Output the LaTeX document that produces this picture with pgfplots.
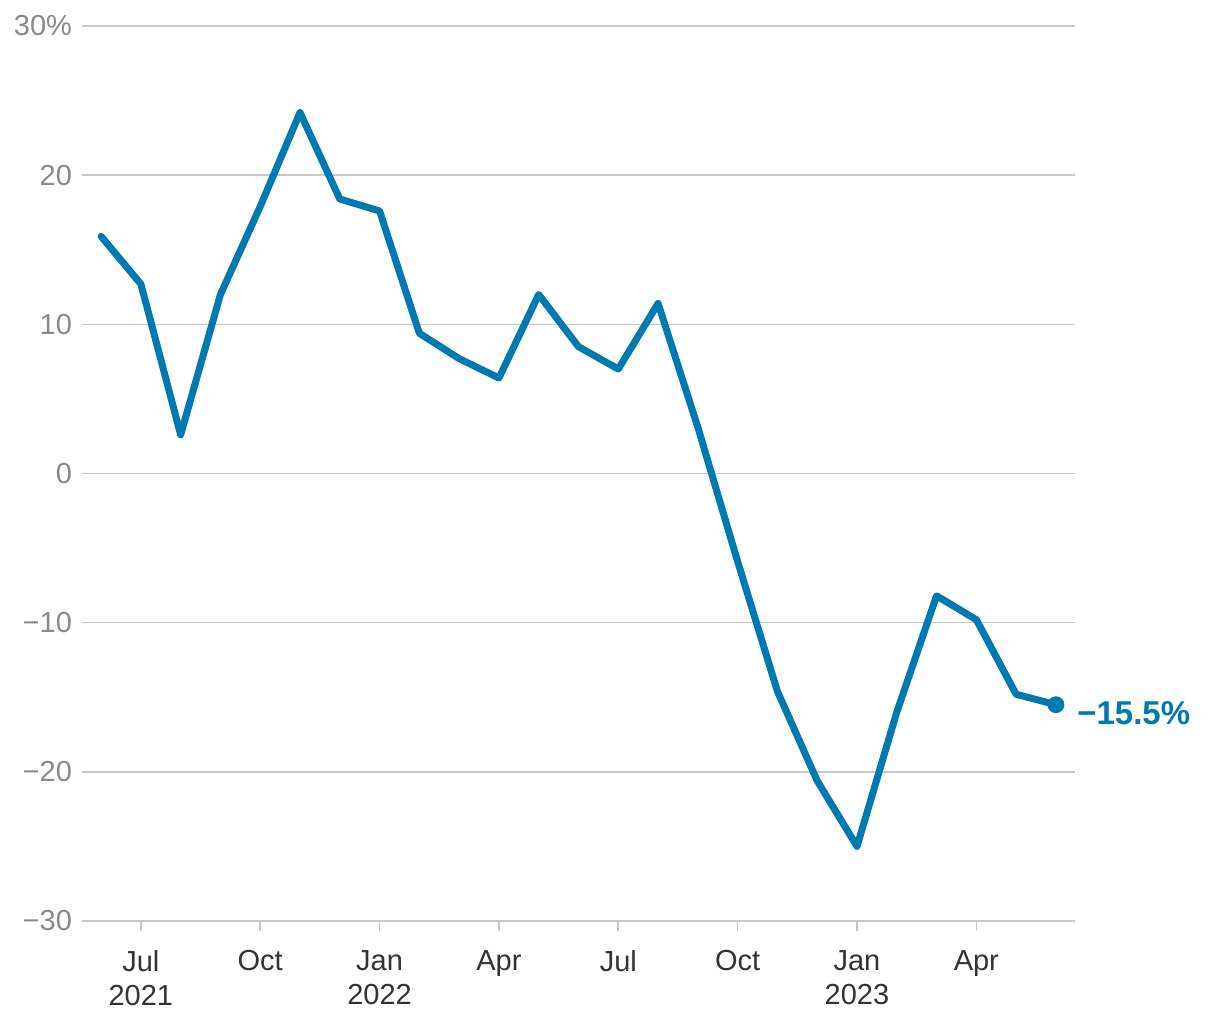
\documentclass[border=0pt]{standalone}
\usepackage{pgfplots}
\pgfplotsset{compat=1.18}
\usepackage{fontspec}
\setmainfont{Liberation Sans}
\definecolor{lineblue}{HTML}{0079AE}
\definecolor{gridgray}{HTML}{C8C8C8}
\definecolor{ticklabgray}{HTML}{8A8A8A}
\definecolor{xlab}{HTML}{333333}
\begin{document}
\begin{tikzpicture}
\useasboundingbox (-41pt,-49.5pt) rectangle (569pt,460.5pt);
\begin{axis}[
  at={(0pt,0pt)}, anchor=south west,
  scale only axis, width=496.5pt, height=447.5pt,
  xmin=-0.48, xmax=24.48, ymin=-30, ymax=30,
  axis line style={draw=none},
  ymajorgrids, major grid style={gridgray, line width=0.8pt},
  ytick={-30,-20,-10,0,10,20,30},
  yticklabels={−30,−20,−10,0,10,20,30\%},
  ytick style={draw=none},
  yticklabel style={font=\fontsize{14.5}{17}\selectfont, text=ticklabgray, anchor=east, xshift=3.5pt},
  xtick={1,4,7,10,13,16,19,22},
  xtick pos=bottom, ytick pos=left,
  xticklabels={Jul\\2021,Oct,Jan\\2022,Apr,Jul,Oct,Jan\\2023,Apr},
  xticklabel style={font=\fontsize{14.5}{17}\selectfont, text=xlab, align=center, anchor=north, yshift=-6pt},
  tick align=outside, major tick length=5pt,
  xtick style={draw=gridgray, line width=0.8pt},
  clip=false,
]
\addplot[lineblue, line width=3.5pt, line join=round, line cap=round] coordinates {
(0,15.9) (1,12.7) (2,2.6) (3,12.0) (4,17.9) (5,24.2) (6,18.4) (7,17.6)
(8,9.4) (9,7.7) (10,6.4) (11,12.0) (12,8.5) (13,7.0) (14,11.4) (15,3.1)
(16,-5.9) (17,-14.6) (18,-20.6) (19,-25.0) (20,-16.0) (21,-8.2) (22,-9.8)
(23,-14.8) (24,-15.5)
};
\addplot[lineblue, only marks, mark=*, mark size=4pt, mark options={fill=lineblue, draw=lineblue}] coordinates {(24,-15.5)}
  node[anchor=west, inner sep=0pt, xshift=10.5pt, yshift=-4pt, text=lineblue, font=\fontsize{16.5}{19}\selectfont\bfseries] {−15.5\%};
\end{axis}
\end{tikzpicture}
\end{document}
